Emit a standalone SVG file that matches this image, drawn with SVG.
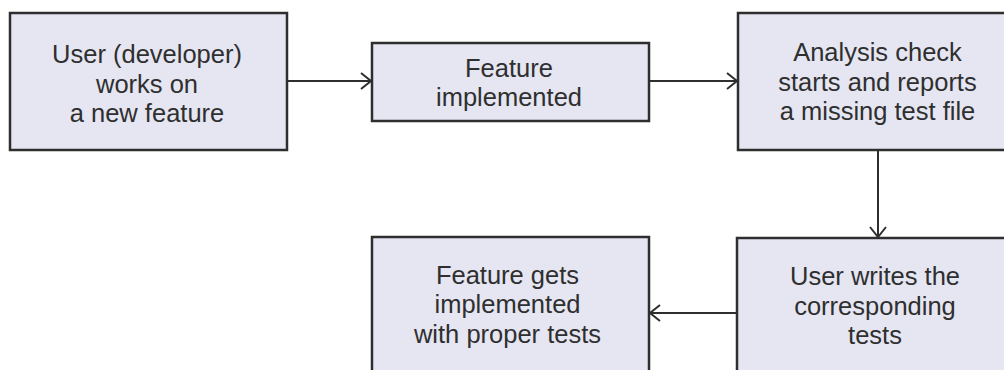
<svg xmlns="http://www.w3.org/2000/svg" width="1004" height="370" viewBox="0 0 1004 370">
<style>
.box{fill:#e5e6f2;stroke:#2e2e2e;stroke-width:2.5}
.lbl{font-family:"Liberation Sans",Arial,sans-serif;font-size:25.5px;fill:#2f2f2f;text-anchor:middle}
.conn{stroke:#2e2e2e;stroke-width:2;fill:none}
</style>
<defs>
<marker id="arr" viewBox="0 0 12 18" refX="11" refY="9" markerWidth="12" markerHeight="18" markerUnits="userSpaceOnUse" orient="auto">
<path d="M1,1 L11,9 L1,17" fill="none" stroke="#2e2e2e" stroke-width="2"/>
</marker>
</defs>
<rect width="1004" height="370" fill="#ffffff"/>
<g id="connectors">
<line class="conn" x1="287" y1="81" x2="371" y2="81" marker-end="url(#arr)"/>
<line class="conn" x1="649" y1="81" x2="737" y2="81" marker-end="url(#arr)"/>
<line class="conn" x1="878" y1="150" x2="878" y2="237" marker-end="url(#arr)"/>
<line class="conn" x1="737" y1="313" x2="650" y2="313" marker-end="url(#arr)"/>
</g>
<g id="n1">
<rect class="box" x="10" y="13" width="277" height="137"/>
<text class="lbl" x="147" y="63">User (developer)</text>
<text class="lbl" x="147" y="92.5">works on</text>
<text class="lbl" x="147" y="121.5">a new feature</text>
</g>
<g id="n2">
<rect class="box" x="372" y="43" width="277" height="78"/>
<text class="lbl" x="509" y="76.5">Feature</text>
<text class="lbl" x="509" y="106">implemented</text>
</g>
<g id="n3">
<rect class="box" x="738" y="13" width="280" height="137"/>
<text class="lbl" x="877.5" y="61">Analysis check</text>
<text class="lbl" x="877.5" y="90.5">starts and reports</text>
<text class="lbl" x="877.5" y="120">a missing test file</text>
</g>
<g id="n4">
<rect class="box" x="737" y="238" width="280" height="150"/>
<text class="lbl" x="875" y="285">User writes the</text>
<text class="lbl" x="875" y="314.5">corresponding</text>
<text class="lbl" x="875" y="344">tests</text>
</g>
<g id="n5">
<rect class="box" x="372" y="237" width="277" height="150"/>
<text class="lbl" x="507.5" y="283.5">Feature gets</text>
<text class="lbl" x="507.5" y="313">implemented</text>
<text class="lbl" x="507.5" y="343">with proper tests</text>
</g>
</svg>
